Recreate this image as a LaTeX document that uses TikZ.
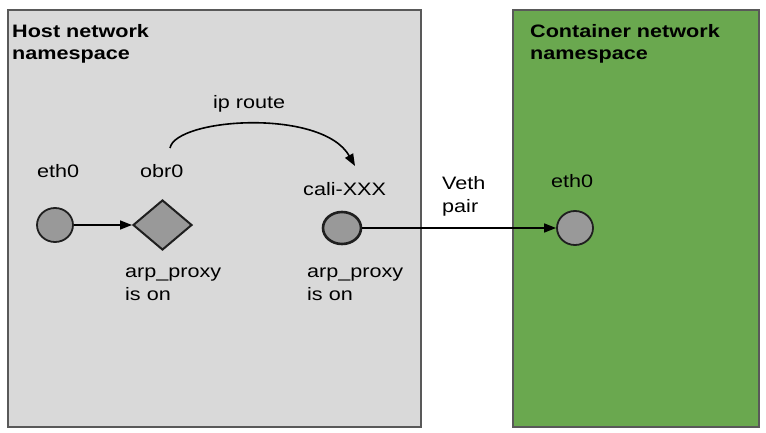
\documentclass[tikz,border=0pt]{standalone}
\usepackage{fontspec}
\setmainfont[FakeStretch=1.2]{Liberation Sans}
\usetikzlibrary{arrows.meta,shapes.geometric}
\definecolor{hostfill}{HTML}{D9D9D9}
\definecolor{contfill}{HTML}{6AA84F}
\definecolor{boxline}{HTML}{595959}
\definecolor{nodefill}{HTML}{999999}
\definecolor{nodeline}{HTML}{1F1F1F}
\begin{document}
\begin{tikzpicture}[x=1pt,y=-1pt,
  nsbox/.style={draw=boxline,line width=1.3pt},
  iface/.style={ellipse,draw=nodeline,fill=nodefill,line width=1.8pt,minimum width=36pt,minimum height=34pt,inner sep=0pt},
  bridge/.style={diamond,draw=nodeline,fill=nodefill,line width=2pt,minimum width=59pt,minimum height=50pt,inner sep=0pt},
  lbl/.style={anchor=base west,inner sep=0pt,font=\fontsize{18}{22.5}\selectfont,align=left},
  ttl/.style={anchor=base west,inner sep=0pt,font=\fontsize{18}{22}\selectfont\bfseries,align=left},
  conn/.style={line width=1.6pt,-{Triangle[length=12pt,width=9pt]}}]
\useasboundingbox (0,0) rectangle (766,433);
\fill[white] (0,0) rectangle (766,433);
% namespaces
\draw[nsbox,fill=hostfill] (8,10) rectangle (421,427);
\draw[nsbox,fill=contfill] (513,10) rectangle (759,427);
% multi-line nodes: base anchor is the last line's baseline
\node[ttl] (hostttl) at (12,60) {Host network\\namespace};
\node[ttl] (contttl) at (530,60) {Container network\\namespace};
% interfaces
\node[iface] (heth) at (55,225) {};
\node[bridge] (obr) at (162.5,225) {};
\node[iface,line width=2.6pt,minimum width=38pt,minimum height=32pt] (cali) at (342,228) {};
\node[iface] (ceth) at (575,228) {};
% labels
\node[lbl] (hethl) at (37,178) {eth0};
\node[lbl] (obrl) at (140,178) {obr0};
\node[lbl] (calil) at (303,196) {cali-XXX};
\node[lbl] (cethl) at (551,188) {eth0};
\node[lbl] (arp1) at (125,300) {arp\_proxy\\is on};
\node[lbl] (arp2) at (307,300) {arp\_proxy\\is on};
\node[lbl] (veth) at (442,212) {Veth\\pair};
\node[lbl] (iproute) at (213,109) {ip route};
% connectors
\draw[conn] (heth.east) -- (obr.west);
\draw[conn] (cali.east) -- (ceth.west);
\coordinate (arcs) at (170,148);
\coordinate (arce) at (355,166);
\draw[conn] (arcs) .. controls (176,118) and (322,108) .. (arce);
\end{tikzpicture}
\end{document}
